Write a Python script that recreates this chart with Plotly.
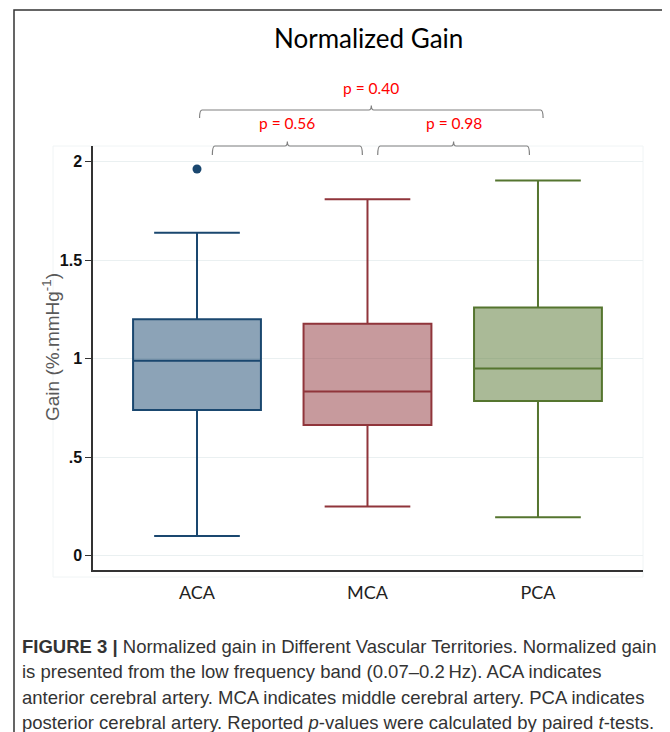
import plotly.graph_objects as go

# ---- data ----
categories = ["ACA", "MCA", "PCA"]
lower_whisker = [0.10, 0.25, 0.195]
q1_vals = [0.74, 0.663, 0.785]
median_vals = [0.99, 0.834, 0.951]
q3_vals = [1.20, 1.178, 1.26]
upper_whisker = [1.64, 1.81, 1.905]
outlier_cat = ["ACA"]
outlier_val = [1.963]
line_colors = ["#1a476f", "#90353b", "#55752f"]
fill_colors = ["rgba(26,71,111,0.5)", "rgba(144,53,59,0.5)", "rgba(85,117,47,0.5)"]
# comparisons: (from position, to position, label, level)
brackets = [(0.09, 0.97, "p = 0.56", 0), (1.06, 1.95, "p = 0.98", 0), (0.015, 2.03, "p = 0.40", 1)]
ytick_vals = [0, 0.5, 1, 1.5, 2]
ytick_text = ["0", ".5", "1", "1.5", "2"]

# the page body has an 8px margin; lay out in screen pixels and shift
OFF = 8
W, H = 670 - OFF, 732 - OFF
L, R, T, B = 93, 643, 146, 570  # plot area in screen pixels


def px_x(p):
    return (p - L) / (R - L)


def px_y(p):
    return (B - p) / (B - T)


fig = go.Figure()
for i, c in enumerate(categories):
    fig.add_trace(go.Box(
        x=[c], q1=[q1_vals[i]], median=[median_vals[i]], q3=[q3_vals[i]],
        lowerfence=[lower_whisker[i]], upperfence=[upper_whisker[i]],
        width=0.75, whiskerwidth=0.67,
        line=dict(color=line_colors[i], width=2),
        fillcolor=fill_colors[i], boxpoints=False, showlegend=False,
        hoverinfo="skip",
    ))

fig.add_trace(go.Scatter(x=outlier_cat, y=outlier_val, mode="markers",
                         marker=dict(color=line_colors[0], size=9),
                         showlegend=False, hoverinfo="skip"))

shapes = []
# outer figure frame
shapes.append(dict(type="rect", xref="paper", yref="paper",
                   x0=px_x(14), x1=px_x(666), y0=px_y(760), y1=px_y(10),
                   line=dict(color="#333333", width=1.5), fillcolor="rgba(0,0,0,0)", layer="below"))
# faint plot region
shapes.append(dict(type="rect", xref="paper", yref="paper",
                   x0=px_x(53), x1=px_x(643), y0=px_y(577), y1=px_y(146),
                   line=dict(color="#f0f4f5", width=1), fillcolor="rgba(0,0,0,0)", layer="below"))

bracket_levels = {0: (px_y(155), px_y(146), px_y(141.5)), 1: (px_y(118), px_y(110), px_y(105.5))}
annotations = []
for x0, x1, lab, lev in brackets:
    ye, yh, yt = bracket_levels[lev]
    xm = (x0 + x1) / 2
    d = 0.015
    path = (f"M {x0},{ye} Q {x0},{yh} {x0 + d},{yh} L {xm - d},{yh} Q {xm},{yh} {xm},{yt} "
            f"Q {xm},{yh} {xm + d},{yh} L {x1 - d},{yh} Q {x1},{yh} {x1},{ye}")
    shapes.append(dict(type="path", xref="x", yref="paper", path=path,
                       line=dict(color="#808080", width=1.2)))
    annotations.append(dict(x=xm, y=yt + 18 / (B - T), xref="x", yref="paper",
                            text=lab, showarrow=False, yanchor="middle",
                            font=dict(family="Lato", size=15.5, color="#ff0000")))

# title
annotations.append(dict(x=0.5, y=px_y(38), xref="paper", yref="paper", text="Normalized Gain",
                        showarrow=False, yanchor="middle",
                        font=dict(family="Lato", size=26, color="#000000")))
# y axis title
annotations.append(dict(x=px_x(51), y=px_y(347), xref="paper", yref="paper",
                        text="Gain (%.mmHg<sup>-1</sup>)", textangle=-90, showarrow=False,
                        xanchor="center", yanchor="middle",
                        font=dict(family="Liberation Sans", size=19, color="#595959")))
# caption
cap_lines = [
    "<b>FIGURE 3 |</b> Normalized gain in Different Vascular Territories. Normalized gain",
    "is presented from the low frequency band (0.07–0.2\u2009Hz). ACA indicates",
    "anterior cerebral artery. MCA indicates middle cerebral artery. PCA indicates",
    "posterior cerebral artery. Reported <i>p</i>-values were calculated by paired <i>t</i>-tests.",
]
cap_y = [646, 671.5, 697, 722]
for t, yy in zip(cap_lines, cap_y):
    annotations.append(dict(x=px_x(20), y=px_y(yy), xref="paper", yref="paper", text=t,
                            showarrow=False, xanchor="left", yanchor="middle", align="left",
                            font=dict(family="Liberation Sans", size=18.5, color="#333333")))

fig.update_layout(
    width=W, height=H,
    margin=dict(l=L - OFF, r=W - (R - OFF), t=T - OFF, b=H - (B - OFF)),
    paper_bgcolor="white", plot_bgcolor="white",
    shapes=shapes, annotations=annotations,
    showlegend=False,
    xaxis=dict(range=[-0.61, 2.616], type="category", categoryorder="array",
               categoryarray=categories, showgrid=False, zeroline=False,
               showline=True, linecolor="#333333", linewidth=1.5,
               ticks="outside", ticklen=6, tickcolor="rgba(0,0,0,0)",
               tickfont=dict(family="Lato", size=18, color="#222222")),
    yaxis=dict(range=[-0.0726, 2.080], tickvals=ytick_vals, ticktext=ytick_text,
               showgrid=True, gridcolor="#eaf0f1", gridwidth=1, zeroline=False,
               showline=True, linecolor="#333333", linewidth=1.5,
               ticks="outside", ticklen=6, tickcolor="#333333", tickwidth=1.2,
               tickfont=dict(family="Liberation Sans", size=16, color="#111111", weight="bold")),
)

fig.write_html("out.html")
